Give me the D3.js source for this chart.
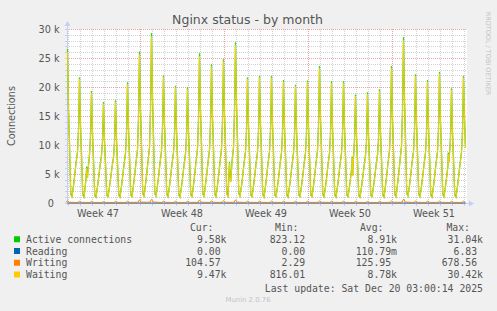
<!DOCTYPE html>
<html>
<head>
<meta charset="utf-8">
<script src="https://cdn.jsdelivr.net/npm/d3@7"></script>
<style>
  body { margin: 0; background: #f0f0f0; }
  svg { display: block; }
  text { fill: #555; }
</style>
</head>
<body>
<div id="chart"></div>
<script>
// values in thousands of connections, one cycle per day (peak around 23:00)
var cycleHours = [2, 4, 6.5, 9, 13, 17, 20, 22];

var activePeaks = [26.5, 21.7, 19.3, 17.4, 17.7, 20.8, 26.1, 29.3, 22.0, 20.2, 19.9, 25.8, 23.9, 24.8, 27.7, 21.7, 21.9,
    21.9, 21.2, 20.4, 21.1, 23.6, 21.0, 21.0, 18.7, 19.1, 19.6, 23.6, 28.6, 22.2, 21.2, 22.6, 19.8, 21.9];

var activeCycles = [
    [16.2, 10.4, 1.5, 1.1, 3.7, 6.9, 8.8, 12.6],
    [13.4, 8.6, 1.4, 1.0, 4.2, 5.6, 8.4, 11.5],
    [12.0, 7.7, 1.3, 1.0, 3.5, 6.4, 8.2, 10.6],
    [10.8, 7.0, 1.3, 1.1, 3.4, 6.2, 7.9, 10.4],
    [11.0, 7.1, 1.4, 1.0, 3.6, 6.6, 8.6, 12.0],
    [12.9, 8.3, 1.4, 1.1, 3.8, 7.0, 9.2, 14.6],
    [16.2, 10.4, 1.6, 1.2, 3.9, 7.2, 9.6, 16.0],
    [18.2, 11.7, 1.7, 1.2, 3.7, 6.9, 9.0, 12.8],
    [13.6, 8.8, 1.5, 1.1, 3.6, 6.7, 8.7, 11.8],
    [12.5, 8.1, 1.4, 1.0, 3.5, 6.5, 8.5, 11.5],
    [12.3, 8.0, 1.4, 1.1, 3.8, 7.1, 9.4, 14.4],
    [16.0, 10.3, 1.6, 1.2, 3.9, 7.0, 9.2, 13.6],
    [14.8, 9.6, 1.5, 1.1, 3.8, 7.0, 9.3, 14.0],
    [15.4, 9.9, 1.6, 1.2, 5.2, 7.1, 9.6, 15.6],
    [17.2, 11.1, 1.7, 1.2, 3.6, 6.8, 8.9, 12.4],
    [13.4, 8.7, 1.4, 1.1, 3.6, 6.7, 8.8, 12.3],
    [13.6, 8.8, 1.5, 1.0, 3.6, 6.8, 8.9, 12.4],
    [13.5, 8.8, 1.4, 1.1, 3.5, 6.6, 8.7, 12.0],
    [13.1, 8.5, 1.4, 1.0, 3.5, 6.5, 8.6, 11.7],
    [12.6, 8.2, 1.4, 1.1, 3.6, 6.6, 8.7, 12.0],
    [13.1, 8.4, 1.4, 1.1, 3.7, 6.9, 9.1, 13.3],
    [14.6, 9.4, 1.5, 1.1, 3.5, 6.6, 8.6, 11.9],
    [13.0, 8.4, 1.4, 1.0, 3.5, 6.6, 8.6, 11.9],
    [13.0, 8.4, 1.4, 1.1, 3.5, 6.5, 7.8, 10.8],
    [11.6, 7.5, 1.3, 1.0, 3.4, 6.3, 8.2, 10.7],
    [11.8, 7.6, 1.3, 1.1, 3.5, 6.4, 8.3, 11.0],
    [12.2, 7.8, 1.4, 1.0, 3.7, 6.9, 9.1, 13.3],
    [14.6, 9.4, 1.5, 1.1, 3.9, 7.3, 9.8, 15.8],
    [17.7, 11.4, 1.7, 1.2, 3.7, 6.9, 8.9, 12.5],
    [13.8, 8.9, 1.5, 1.1, 3.6, 6.6, 8.7, 12.0],
    [13.1, 8.5, 1.4, 1.0, 3.6, 6.8, 8.9, 12.7],
    [14.0, 9.0, 1.5, 1.1, 3.6, 6.5, 8.5, 11.2],
    [12.3, 7.9, 1.4, 1.0, 3.6, 6.7, 8.8, 12.3]
];
var activeTail = [14.8, 9.58];
var activeBlips = [["2025-11-18 13:30", 6.3], ["2025-11-18 15:00", 4.4], ["2025-11-30 11:00", 7.1], ["2025-11-30 13:30", 3.7],
    ["2025-12-10 16:30", 8.0], ["2025-12-10 17:30", 4.8], ["2025-12-18 16:30", 8.7], ["2025-12-18 17:30", 7.1]];

var waitingPeaks = [26.1, 21.4, 19.0, 17.1, 17.4, 20.5, 25.6, 28.7, 21.7, 19.9, 19.6, 25.3, 23.5, 24.4, 27.2, 21.4, 21.6,
    21.6, 20.9, 20.1, 20.8, 23.2, 20.7, 20.7, 18.4, 18.8, 19.3, 23.2, 28.0, 21.9, 20.9, 22.3, 19.5, 21.6];

var waitingCycles = [
    [16.0, 10.3, 1.4, 1.0, 3.6, 6.8, 8.7, 12.4],
    [13.2, 8.5, 1.3, 1.0, 4.1, 5.5, 8.3, 11.3],
    [11.8, 7.6, 1.2, 0.9, 3.4, 6.3, 8.1, 10.4],
    [10.6, 6.9, 1.2, 1.0, 3.3, 6.1, 7.8, 10.2],
    [10.8, 7.0, 1.3, 0.9, 3.5, 6.5, 8.5, 11.8],
    [12.7, 8.2, 1.3, 1.0, 3.7, 6.9, 9.1, 14.3],
    [15.9, 10.2, 1.5, 1.1, 3.8, 7.1, 9.5, 15.6],
    [17.9, 11.5, 1.6, 1.1, 3.6, 6.8, 8.9, 12.6],
    [13.4, 8.7, 1.4, 1.0, 3.5, 6.6, 8.6, 11.6],
    [12.3, 8.0, 1.3, 0.9, 3.4, 6.4, 8.4, 11.3],
    [12.1, 7.9, 1.3, 1.0, 3.7, 7.0, 9.3, 14.1],
    [15.7, 10.1, 1.5, 1.1, 3.8, 6.9, 9.1, 13.4],
    [14.6, 9.5, 1.4, 1.0, 3.7, 6.9, 9.2, 13.7],
    [15.2, 9.8, 1.5, 1.1, 5.0, 7.0, 9.5, 15.3],
    [16.9, 10.9, 1.6, 1.1, 3.5, 6.7, 8.8, 12.2],
    [13.2, 8.6, 1.3, 1.0, 3.5, 6.6, 8.7, 12.1],
    [13.4, 8.7, 1.4, 0.9, 3.5, 6.7, 8.8, 12.2],
    [13.3, 8.7, 1.3, 1.0, 3.4, 6.5, 8.6, 11.8],
    [12.9, 8.4, 1.3, 0.9, 3.4, 6.4, 8.5, 11.5],
    [12.4, 8.1, 1.3, 1.0, 3.5, 6.5, 8.6, 11.8],
    [12.9, 8.3, 1.3, 1.0, 3.6, 6.8, 9.0, 13.0],
    [14.4, 9.3, 1.4, 1.0, 3.4, 6.5, 8.5, 11.7],
    [12.8, 8.3, 1.3, 0.9, 3.4, 6.5, 8.5, 11.7],
    [12.8, 8.3, 1.3, 1.0, 3.4, 6.4, 7.7, 10.6],
    [11.4, 7.4, 1.2, 0.9, 3.3, 6.2, 8.1, 10.5],
    [11.6, 7.5, 1.2, 1.0, 3.4, 6.3, 8.2, 10.8],
    [12.0, 7.7, 1.3, 0.9, 3.6, 6.8, 9.0, 13.0],
    [14.4, 9.3, 1.4, 1.0, 3.8, 7.2, 9.7, 15.4],
    [17.4, 11.2, 1.6, 1.1, 3.6, 6.8, 8.8, 12.3],
    [13.6, 8.8, 1.4, 1.0, 3.5, 6.5, 8.6, 11.8],
    [12.9, 8.4, 1.3, 0.9, 3.5, 6.7, 8.8, 12.5],
    [13.8, 8.9, 1.4, 1.0, 3.5, 6.4, 8.4, 11.0],
    [12.1, 7.8, 1.3, 0.9, 3.5, 6.6, 8.7, 12.1]
];
var waitingTail = [14.6, 9.47];
var waitingBlips = [["2025-11-18 13:30", 6.0], ["2025-11-18 15:00", 4.3], ["2025-11-30 11:00", 6.9], ["2025-11-30 13:30", 3.6],
    ["2025-12-10 16:30", 7.8], ["2025-12-10 17:30", 4.7], ["2025-12-18 16:30", 8.4], ["2025-12-18 17:30", 7.0]];

// writing: [3h before peak, at peak, 4h after peak]
var writingRows = [
    [0.10, 0.40, 0.12], [0.10, 0.30, 0.11], [0.09, 0.28, 0.10], [0.09, 0.26, 0.10], [0.09, 0.27, 0.10],
    [0.10, 0.32, 0.11], [0.12, 0.55, 0.14], [0.13, 0.62, 0.15], [0.10, 0.33, 0.11], [0.10, 0.30, 0.10],
    [0.10, 0.30, 0.11], [0.12, 0.52, 0.13], [0.11, 0.38, 0.12], [0.11, 0.42, 0.12], [0.12, 0.55, 0.14],
    [0.10, 0.32, 0.11], [0.10, 0.33, 0.11], [0.10, 0.33, 0.11], [0.10, 0.31, 0.10], [0.10, 0.30, 0.10],
    [0.10, 0.31, 0.11], [0.11, 0.36, 0.12], [0.10, 0.31, 0.11], [0.10, 0.31, 0.10], [0.09, 0.28, 0.10],
    [0.09, 0.28, 0.10], [0.09, 0.29, 0.10], [0.11, 0.36, 0.12], [0.13, 0.66, 0.15], [0.10, 0.33, 0.11],
    [0.10, 0.31, 0.11], [0.10, 0.34, 0.11], [0.09, 0.29, 0.10], [0.10, 0.33, 0.105]
];
var readingDaily = [0, 0.0002, 0, 0.0001, 0, 0.0003, 0.0004, 0.0007, 0, 0.0001, 0, 0.0005, 0.0002, 0.0001, 0.0006, 0,
    0.0001, 0, 0.0002, 0, 0.0001, 0.0003, 0, 0.0001, 0, 0, 0.0001, 0.0002, 0.0006, 0.0001, 0, 0.0002, 0, 0.0001];

var legendNames = ["Active connections", "Reading", "Writing", "Waiting"];
var legendColors = ["#00CC00", "#0066B3", "#FF8000", "#FFCC00"];
var legendCur = ["9.58k", "0.00 ", "104.57 ", "9.47k"];
var legendMin = ["823.12 ", "0.00 ", "2.29 ", "816.01 "];
var legendAvg = ["8.91k", "110.79m", "125.95 ", "8.78k"];
var legendMax = ["31.04k", "6.83 ", "678.56 ", "30.42k"];
var yTicks = [0, 5, 10, 15, 20, 25, 30];

var width = 497, height = 311;
var plotLeft = 67, plotRight = 467, plotTop = 29, plotBottom = 203;
var axisColor = "#c6cef4";
var parseTime = d3.timeParse("%Y-%m-%d %H:%M");

function peakTime(i) {
    return new Date(2025, 10, 16 + i, 23);
}
function hoursAfter(d, h) {
    return new Date(d.getTime() + h * 3600 * 1000);
}

function buildSeries(peaks, cycles, tail, blips) {
    var pts = [];
    peaks.forEach(function(p, i) {
        pts.push({ t: peakTime(i), v: p });
        if (i < cycles.length) {
            cycles[i].forEach(function(v, j) {
                pts.push({ t: hoursAfter(peakTime(i), cycleHours[j]), v: v });
            });
        }
    });
    pts.push({ t: hoursAfter(peakTime(peaks.length - 1), 2), v: tail[0] });
    pts.push({ t: hoursAfter(peakTime(peaks.length - 1), 4), v: tail[1] });
    blips.forEach(function(b) {
        pts.push({ t: parseTime(b[0]), v: b[1] });
    });
    pts.sort(function(a, b) { return a.t - b.t; });
    return pts;
}

var active = buildSeries(activePeaks, activeCycles, activeTail, activeBlips);
var waiting = buildSeries(waitingPeaks, waitingCycles, waitingTail, waitingBlips);

var writing = [];
writingRows.forEach(function(r, i) {
    writing.push({ t: hoursAfter(peakTime(i), -3), v: r[0] });
    writing.push({ t: peakTime(i), v: r[1] });
    writing.push({ t: hoursAfter(peakTime(i), 4), v: r[2] });
});
var reading = readingDaily.map(function(v, i) { return { t: peakTime(i), v: v }; });
reading.push({ t: hoursAfter(peakTime(readingDaily.length - 1), 4), v: 0 });

var start = new Date(2025, 10, 16, 22);
var end = new Date(2025, 11, 20, 6);
var x = d3.scaleTime().domain([start, end]).range([plotLeft, plotRight]);
var y = d3.scaleLinear().domain([0, 30]).range([plotBottom, plotTop]);

var svg = d3.select("#chart").append("svg")
    .attr("width", width)
    .attr("height", height);

svg.append("rect")
    .attr("width", width)
    .attr("height", height)
    .attr("fill", "#f0f0f0");

svg.append("rect")
    .attr("x", plotLeft)
    .attr("y", plotTop)
    .attr("width", plotRight - plotLeft)
    .attr("height", plotBottom - plotTop)
    .attr("fill", "#ffffff");

var grid = svg.append("g").attr("shape-rendering", "crispEdges");

var days = d3.timeDay.range(start, end);
var weeks = d3.timeSunday.range(start, end);

grid.selectAll(".vminor")
    .data(days.filter(function(d) { return d.getDay() != 0; }))
    .enter().append("line")
    .attr("x1", function(d) { return Math.round(x(d)) + 0.5; })
    .attr("x2", function(d) { return Math.round(x(d)) + 0.5; })
    .attr("y1", plotTop)
    .attr("y2", plotBottom)
    .style("stroke", "#d2d2d2")
    .style("stroke-dasharray", "1,1");

grid.selectAll(".hminor")
    .data(y.ticks(30).filter(function(d) { return d % 5 != 0; }))
    .enter().append("line")
    .attr("x1", plotLeft)
    .attr("x2", plotRight)
    .attr("y1", function(d) { return Math.round(y(d)) + 0.5; })
    .attr("y2", function(d) { return Math.round(y(d)) + 0.5; })
    .style("stroke", "#d2d2d2")
    .style("stroke-dasharray", "1,1");

grid.selectAll(".vmajor")
    .data(weeks)
    .enter().append("line")
    .attr("x1", function(d) { return Math.round(x(d)) + 0.5; })
    .attr("x2", function(d) { return Math.round(x(d)) + 0.5; })
    .attr("y1", plotTop)
    .attr("y2", plotBottom)
    .style("stroke", "#eaa3a3")
    .style("stroke-dasharray", "1,1");

grid.selectAll(".hmajor")
    .data(yTicks.filter(function(d) { return d > 0; }))
    .enter().append("line")
    .attr("x1", plotLeft)
    .attr("x2", plotRight)
    .attr("y1", function(d) { return Math.round(y(d)) + 0.5; })
    .attr("y2", function(d) { return Math.round(y(d)) + 0.5; })
    .style("stroke", "#eaa3a3")
    .style("stroke-dasharray", "1,1");

// axes
grid.append("line")
    .attr("x1", plotLeft - 2).attr("x2", plotRight + 4)
    .attr("y1", plotBottom + 0.5).attr("y2", plotBottom + 0.5)
    .style("stroke", axisColor);
grid.append("line")
    .attr("x1", plotLeft + 0.5).attr("x2", plotLeft + 0.5)
    .attr("y1", plotBottom + 2).attr("y2", plotTop - 4)
    .style("stroke", axisColor);
grid.selectAll(".xtick")
    .data(days)
    .enter().append("line")
    .attr("x1", function(d) { return Math.round(x(d)) + 0.5; })
    .attr("x2", function(d) { return Math.round(x(d)) + 0.5; })
    .attr("y1", plotBottom + 1)
    .attr("y2", plotBottom + 3)
    .style("stroke", axisColor);
grid.selectAll(".ytick")
    .data(y.ticks(30))
    .enter().append("line")
    .attr("x1", plotLeft - 2)
    .attr("x2", plotLeft)
    .attr("y1", function(d) { return Math.round(y(d)) + 0.5; })
    .attr("y2", function(d) { return Math.round(y(d)) + 0.5; })
    .style("stroke", axisColor);

svg.append("path")
    .attr("d", "M" + (plotRight + 2) + "," + (plotBottom - 2.5) + "L" + (plotRight + 7) + "," + (plotBottom + 0.5) +
        "L" + (plotRight + 2) + "," + (plotBottom + 3.5) + "Z")
    .attr("fill", axisColor);
svg.append("path")
    .attr("d", "M" + (plotLeft - 2.5) + "," + (plotTop - 3) + "L" + (plotLeft + 0.5) + "," + (plotTop - 8) +
        "L" + (plotLeft + 3.5) + "," + (plotTop - 3) + "Z")
    .attr("fill", axisColor);

// series, drawn in munin order so waiting sits on top
var line = d3.line()
    .x(function(d) { return x(d.t); })
    .y(function(d) { return y(d.v); });

svg.append("path")
    .datum(active)
    .attr("d", line)
    .attr("fill", "none")
    .attr("stroke", legendColors[0])
    .attr("stroke-opacity", 0.8)
    .attr("stroke-width", 1.3);
svg.append("path")
    .datum(reading)
    .attr("d", line)
    .attr("fill", "none")
    .attr("stroke", legendColors[1])
    .attr("stroke-width", 1);
svg.append("path")
    .datum(writing)
    .attr("d", line)
    .attr("fill", "none")
    .attr("stroke", legendColors[2])
    .attr("stroke-width", 1);
svg.append("path")
    .datum(waiting)
    .attr("d", line)
    .attr("fill", "none")
    .attr("stroke", legendColors[3])
    .attr("stroke-width", 1);

// labels
svg.append("text")
    .attr("x", 247.5)
    .attr("y", 24)
    .attr("text-anchor", "middle")
    .style("font-family", "DejaVu Sans")
    .style("font-size", "12.5px")
    .text("Nginx status - by month");

svg.selectAll(".ylab")
    .data(yTicks)
    .enter().append("text")
    .attr("x", function(d) { return d == 0 ? 54 : 59.5; })
    .attr("y", function(d) { return y(d) + 3.5; })
    .attr("text-anchor", "end")
    .style("font-family", "DejaVu Sans")
    .style("font-size", "9.7px")
    .text(function(d) { return d == 0 ? "0" : d + " k"; });

svg.selectAll(".xlab")
    .data(d3.timeSunday.range(d3.timeSunday.floor(start), end).map(function(d) { return d3.timeHour.offset(d, 84); })
        .filter(function(d) { return x(d) > plotLeft && x(d) < plotRight; }))
    .enter().append("text")
    .attr("x", function(d) { return x(d); })
    .attr("y", 216.5)
    .attr("text-anchor", "middle")
    .style("font-family", "DejaVu Sans")
    .style("font-size", "9.7px")
    .text(d3.timeFormat("Week %V"));

svg.append("text")
    .attr("transform", "translate(14.5," + ((plotTop + plotBottom) / 2) + ") rotate(-90)")
    .attr("text-anchor", "middle")
    .style("font-family", "DejaVu Sans")
    .style("font-size", "9.7px")
    .text("Connections");

svg.append("text")
    .attr("transform", "translate(485.5,53.5) rotate(90)")
    .attr("text-anchor", "middle")
    .style("font-family", "DejaVu Sans")
    .style("font-size", "6.5px")
    .style("fill", "#c4c4c4")
    .text("RRDTOOL / TOBI OETIKER");

// legend
var mono = "DejaVu Sans Mono";
var colEnds = [226.5, 311, 397, 483];
var headEnds = [213.5, 298.5, 383.5, 470];
var heads = ["Cur:", "Min:", "Avg:", "Max:"];
var rowY = 231;
var rowStep = 11.75;

heads.forEach(function(h, i) {
    svg.append("text")
        .attr("x", headEnds[i])
        .attr("y", rowY)
        .attr("text-anchor", "end")
        .style("font-family", mono)
        .style("font-size", "9.8px")
        .text(h);
});

legendNames.forEach(function(name, i) {
    var ty = rowY + rowStep * (i + 1);
    svg.append("rect")
        .attr("x", 14)
        .attr("y", ty - 6.5)
        .attr("width", 6)
        .attr("height", 6)
        .attr("fill", legendColors[i]);
    svg.append("text")
        .attr("x", 26)
        .attr("y", ty)
        .style("font-family", mono)
        .style("font-size", "9.8px")
        .text(name);
    [legendCur[i], legendMin[i], legendAvg[i], legendMax[i]].forEach(function(v, j) {
        svg.append("text")
            .attr("x", colEnds[j])
            .attr("y", ty)
            .attr("text-anchor", "end")
            .style("font-family", mono)
            .style("font-size", "9.8px")
            .text(v.replace(/ /g, "\u00a0"));
    });
});

svg.append("text")
    .attr("x", 483)
    .attr("y", 291.5)
    .attr("text-anchor", "end")
    .style("font-family", mono)
    .style("font-size", "9.8px")
    .text("Last update: Sat Dec 20 03:00:14 2025");

svg.append("text")
    .attr("x", 248)
    .attr("y", 302)
    .attr("text-anchor", "middle")
    .style("font-family", "DejaVu Sans")
    .style("font-size", "6.9px")
    .style("fill", "#c4c4c4")
    .text("Munin 2.0.76");
</script>
</body>
</html>
